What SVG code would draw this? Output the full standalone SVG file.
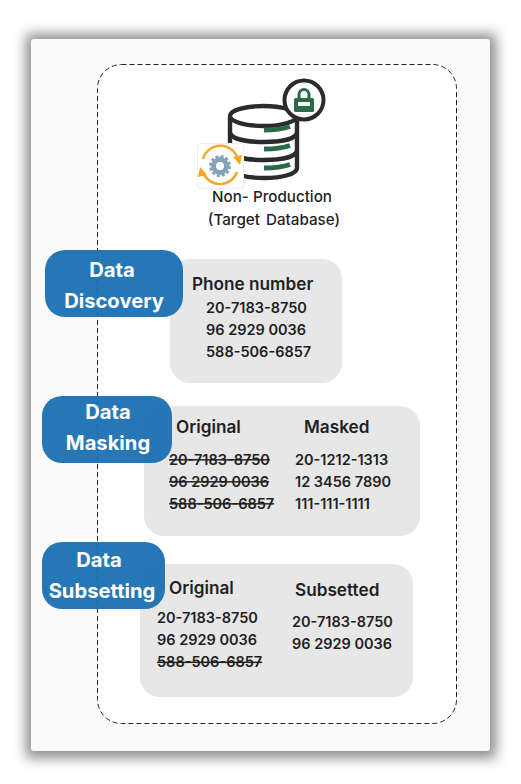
<svg xmlns="http://www.w3.org/2000/svg" width="521" height="784" viewBox="0 0 521 784">
<defs>
<filter id="sh" x="-10%" y="-10%" width="120%" height="120%"><feGaussianBlur stdDeviation="6.500"/></filter>
<filter id="soft" x="-10%" y="-10%" width="120%" height="120%"><feGaussianBlur stdDeviation="0.400"/></filter>
<style>
text{font-family:Inter,"Noto Sans","Liberation Sans",sans-serif;fill:#1f1f1f;font-weight:600}
.h{font-size:17.200px}
.n{font-size:14.500px}
.s{text-decoration:line-through}
.t{font-size:15.200px;font-weight:500}
.b{fill:#1a70b2;opacity:.95}
.l{font-size:20.200px;fill:#fff;text-anchor:middle;font-weight:700}
.g{fill:#e7e7e7}
.d{fill:none;stroke:#2b2b2b;stroke-width:4.400}
.v{fill:none;stroke:#2a6b48;stroke-width:5}
.o{fill:none;stroke:#f5a623;stroke-width:2.400}
</style>
</defs>
<rect width="521" height="784" fill="#fff"/>
<g id="panel">
<rect x="26" y="34" width="470" height="724" fill="#8a8a8a" filter="url(#sh)"/>
<rect x="31" y="39" width="459" height="712" rx="3" fill="#fafafa"/>
<rect x="97.500" y="64.500" width="359" height="659" rx="24" fill="#fff" stroke="#222" stroke-dasharray="5 3"/>
</g>
<g id="database">
<path class="d" d="M230 117V168C230 174 246 178 264 178S297 174 297 168V117"/>
<ellipse class="d" cx="263.500" cy="116" rx="33.500" ry="10"/>
<path class="d" d="M230 133C232 139 246 142 264 142S295 139 297 133M230 151C232 157 246 160 264 160S295 157 297 151"/>
<path class="v" d="M264 130C274 130 283 129 290 126.500M264 149C274 149 283 148 290 145.500M264 168C274 168 283 167 290 164.500"/>
</g>
<g id="lock">
<circle cx="304" cy="100" r="19.500" fill="#fff" stroke="#2b2b2b" stroke-width="4"/>
<path fill="none" stroke="#2a6b48" stroke-width="3" d="M299 99V94.500A5 5 0 0 1 309 94.500V99"/>
<rect x="294" y="98" width="20" height="14" rx="1.500" fill="#2a6b48"/>
<rect x="298" y="102" width="12" height="4" fill="#fff"/>
</g>
<g id="sync-icon">
<rect x="197.500" y="143.500" width="46" height="45" rx="3" fill="#fff" stroke="#eee"/>
<path class="o" d="M203 159A18 18 0 0 1 238 160"/>
<path class="o" d="M237 172A18 18 0 0 1 203 172"/>
<path fill="#f5a623" d="M233 157L240 165L242 155ZM207 175L200 167L198 177Z"/>
<g filter="url(#soft)">
<circle cx="220" cy="166" r="6.500" fill="none" stroke="#86a3ba" stroke-width="5"/>
<circle cx="220" cy="166" r="9.500" fill="none" stroke="#86a3ba" stroke-width="3" stroke-dasharray="3 2"/>
</g>
</g>
<g id="target-label">
<text class="t" x="272" y="201.500" text-anchor="middle">Non- Production</text>
<text class="t" x="274" y="224.500" text-anchor="middle" word-spacing="2">(Target Database)</text>
</g>
<g id="discovery">
<rect class="g" x="170" y="259" width="172" height="124" rx="20"/>
<text class="h" x="192" y="290">Phone number</text>
<text class="n" x="206" y="313">20-7183-8750</text>
<text class="n" x="206" y="335">96 2929 0036</text>
<text class="n" x="206" y="357">588-506-6857</text>
<rect class="b" x="45" y="250" width="138" height="67" rx="20"/>
<text class="l" x="112" y="277">Data</text>
<text class="l" x="114" y="308">Discovery</text>
</g>
<g id="masking">
<rect class="g" x="144" y="406" width="276" height="130" rx="20"/>
<rect class="b" x="42" y="396" width="130" height="67" rx="20"/>
<text class="l" x="108" y="419">Data</text>
<text class="l" x="108" y="450">Masking</text>
<text class="h" x="176" y="433">Original</text>
<text class="h" x="304" y="433">Masked</text>
<text class="n s" x="169" y="464.500">20-7183-8750</text>
<text class="n s" x="169" y="486.500">96 2929 0036</text>
<text class="n s" x="169" y="508.500">588-506-6857</text>
<text class="n" x="295" y="464.500">20-1212-1313</text>
<text class="n" x="295" y="486.500">12 3456 7890</text>
<text class="n" x="295" y="508.500">111-111-1111</text>
</g>
<g id="subsetting">
<rect class="g" x="140" y="564" width="273" height="133" rx="20"/>
<rect class="b" x="42" y="542" width="123" height="67" rx="20"/>
<text class="l" x="99" y="567">Data</text>
<text class="l" x="102" y="598">Subsetting</text>
<text class="h" x="169" y="594">Original</text>
<text class="h" x="295" y="596">Subsetted</text>
<text class="n" x="157" y="623">20-7183-8750</text>
<text class="n" x="157" y="645">96 2929 0036</text>
<text class="n s" x="157" y="667">588-506-6857</text>
<text class="n" x="292" y="627">20-7183-8750</text>
<text class="n" x="292" y="649">96 2929 0036</text>
</g>
</svg>
